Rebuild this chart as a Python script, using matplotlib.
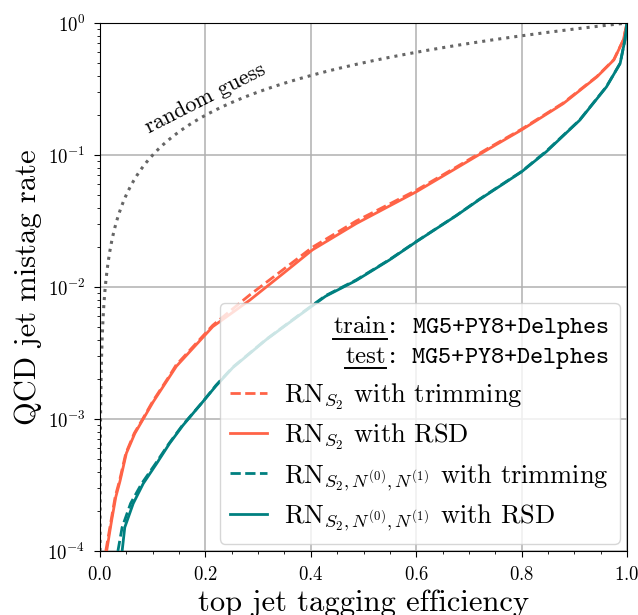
import numpy as np
import matplotlib
matplotlib.use("Agg")
import matplotlib.pyplot as plt
from matplotlib.lines import Line2D

plt.rcParams["font.family"] = "serif"
plt.rcParams["font.serif"] = ["cmr10"]
plt.rcParams["mathtext.fontset"] = "cm"
plt.rcParams["axes.unicode_minus"] = False
plt.rcParams["axes.formatter.use_mathtext"] = True

# efficiency / mistag pairs
eff_s2_rsd = [0.0126, 0.022, 0.030, 0.038, 0.050, 0.066, 0.082, 0.101, 0.132, 0.145,
              0.214, 0.284, 0.347, 0.403, 0.486, 0.60, 0.676, 0.739, 0.80, 0.879,
              0.943, 0.975, 0.993, 1.0]
mis_s2_rsd = [1.0e-4, 1.7e-4, 2.57e-4, 3.39e-4, 5.5e-4, 7.76e-4, 1.0e-3, 1.35e-3, 2.09e-3, 2.51e-3,
              5.01e-3, 7.94e-3, 1.26e-2, 1.91e-2, 3.02e-2, 5.26e-2, 7.94e-2, 0.112, 0.155, 0.245,
              0.391, 0.525, 0.741, 1.0]

eff_s2_trim = [0.011, 0.021, 0.029, 0.037, 0.049, 0.065, 0.081, 0.100, 0.131, 0.144,
               0.214, 0.284, 0.347, 0.403, 0.486, 0.60, 0.676, 0.739, 0.80, 0.879,
               0.943, 0.975, 0.993, 1.0]
mis_s2_trim = [1.0e-4, 1.7e-4, 2.6e-4, 3.4e-4, 5.5e-4, 7.8e-4, 1.0e-3, 1.36e-3, 2.1e-3, 2.55e-3,
               5.13e-3, 8.7e-3, 1.35e-2, 2.0e-2, 3.16e-2, 5.4e-2, 8.1e-2, 0.114, 0.157, 0.248,
               0.394, 0.528, 0.745, 1.0]

eff_n_rsd = [0.042, 0.047, 0.063, 0.082, 0.107, 0.132, 0.157, 0.195, 0.22, 0.252,
             0.315, 0.378, 0.428, 0.486, 0.549, 0.60, 0.676, 0.719, 0.80, 0.847,
             0.91, 0.961, 0.987, 0.996, 1.0]
mis_n_rsd = [1.0e-4, 1.51e-4, 2.29e-4, 3.24e-4, 4.57e-4, 6.53e-4, 8.91e-4, 1.35e-3, 1.78e-3, 2.45e-3,
             3.98e-3, 6.1e-3, 8.51e-3, 1.12e-2, 1.6e-2, 2.2e-2, 3.47e-2, 4.57e-2, 7.46e-2, 0.106,
             0.183, 0.328, 0.494, 0.741, 1.0]

eff_n_trim = [0.034, 0.042, 0.058, 0.079, 0.105, 0.131, 0.156, 0.195, 0.22, 0.252,
              0.315, 0.378, 0.428, 0.486, 0.549, 0.60, 0.676, 0.719, 0.80, 0.847,
              0.91, 0.961, 0.987, 0.996, 1.0]
mis_n_trim = [1.0e-4, 1.51e-4, 2.29e-4, 3.24e-4, 4.57e-4, 6.53e-4, 8.91e-4, 1.35e-3, 1.8e-3, 2.47e-3,
              4.0e-3, 6.15e-3, 8.6e-3, 1.13e-2, 1.61e-2, 2.21e-2, 3.48e-2, 4.6e-2, 7.5e-2, 0.107,
              0.184, 0.33, 0.495, 0.742, 1.0]

labels = [r"RN$_{S_2}$ with trimming",
          r"RN$_{S_2}$ with RSD",
          r"RN$_{S_2,N^{(0)},N^{(1)}}$ with trimming",
          r"RN$_{S_2,N^{(0)},N^{(1)}}$ with RSD"]
sample_words = ["train", "test"]
sample_name = "MG5+PY8+Delphes"

orange = "#ff6347"
teal = "#008080"

fig = plt.figure(figsize=(6.38, 6.15), dpi=100)
ax = fig.add_axes([100 / 638, 1 - 551 / 615, 527 / 638, 528 / 615])

# random guess: mistag == efficiency
guess = np.logspace(-4, 0, 600)
ax.plot(guess, guess, ls=":", color="#666666", lw=2.2)
ax.text(0.2, 0.27, "random guess", rotation=27, fontsize=16,
        ha="center", va="center")

ax.plot(eff_s2_trim, mis_s2_trim, ls="--", color=orange, lw=2, label=labels[0])
ax.plot(eff_s2_rsd, mis_s2_rsd, ls="-", color=orange, lw=2, label=labels[1])
ax.plot(eff_n_trim, mis_n_trim, ls="--", color=teal, lw=2, label=labels[2])
ax.plot(eff_n_rsd, mis_n_rsd, ls="-", color=teal, lw=2, label=labels[3])

ax.set_yscale("log")
ax.set_xlim(0, 1)
ax.set_ylim(1e-4, 1)
ax.set_xticks([0.0, 0.2, 0.4, 0.6, 0.8, 1.0])
ax.set_xticks(np.arange(0, 1.0001, 0.05), minor=True)
ax.grid(True, which="major", color="#b0b0b0", lw=1.1)
ax.tick_params(which="both", direction="out", labelsize=13.5, pad=6)
ax.tick_params(which="major", length=4.5)
ax.tick_params(which="minor", length=2.5)
ax.set_xlabel("top jet tagging efficiency", fontsize=22)
ax.set_ylabel("QCD jet mistag rate", fontsize=22)

title = "\n".join(r"$\mathrm{%s}$: %s" % (w, sample_name) for w in sample_words)
leg = ax.legend(loc="lower right", fontsize=19, title=title,
                title_fontproperties={"family": "cmtt10", "size": 18},
                alignment="right", handlelength=1.4, handletextpad=0.65,
                labelspacing=0.38, borderpad=0.4, borderaxespad=0.28)
ttl = leg.get_title()
ttl.set_multialignment("right")
ttl.set_linespacing(1.25)

# underline "train" / "test" (mathtext has no \underline)
fig.canvas.draw()
r = fig.canvas.get_renderer()
tb = ttl.get_window_extent(r)
W, H = fig.bbox.width, fig.bbox.height
line_h = tb.height / 2
for i, w in enumerate(sample_words):
    t_full = fig.text(0, 0, r"$\mathrm{%s}$: %s" % (w, sample_name), family="cmtt10", fontsize=18)
    t_word = fig.text(0, 0, r"$\mathrm{%s}$" % w, family="cmtt10", fontsize=18)
    full_w = t_full.get_window_extent(r).width
    word_w = t_word.get_window_extent(r).width
    t_full.remove()
    t_word.remove()
    x0 = tb.x1 - full_w
    y = tb.y1 - line_h * (i + 1) + line_h * 0.12
    fig.add_artist(Line2D([x0 / W, (x0 + word_w) / W], [y / H, y / H],
                          transform=fig.transFigure, color="black", lw=1.4, zorder=10))

fig.savefig("out.png", dpi=100)
